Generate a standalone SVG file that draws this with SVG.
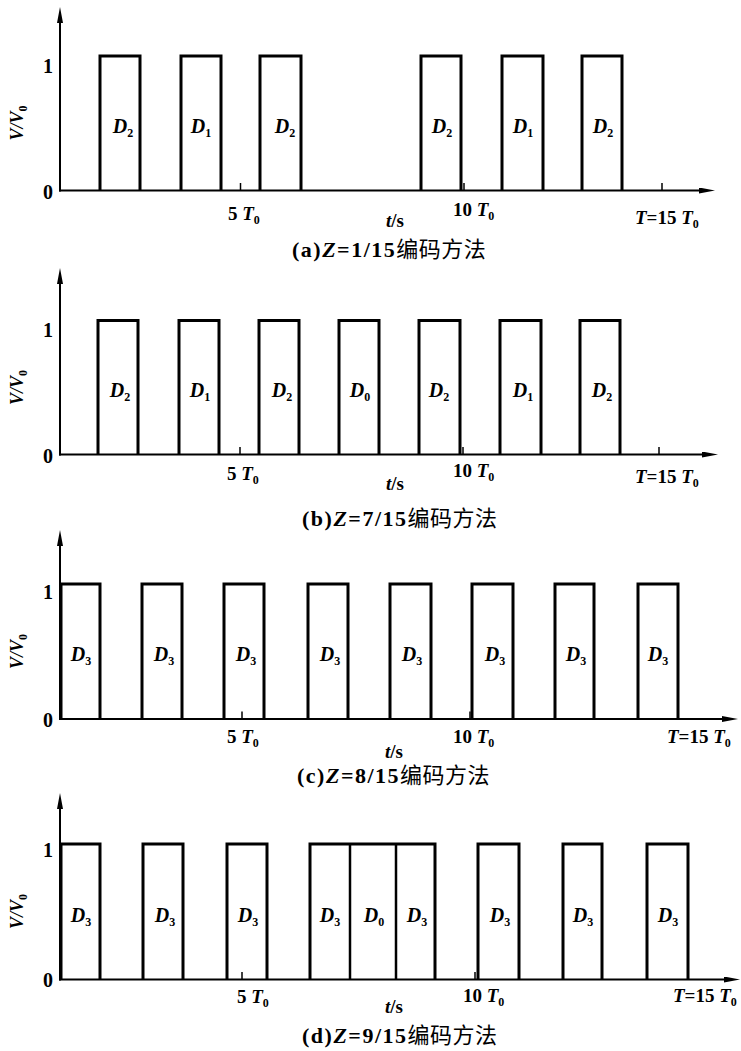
<svg xmlns="http://www.w3.org/2000/svg" width="741" height="1051" viewBox="0 0 741 1051">
<style>
.ax{stroke:#000;stroke-width:2;fill:none}
.tk{stroke:#000;stroke-width:1.5}
.p{stroke:#000;stroke-width:3;fill:none;stroke-linejoin:miter}
.dv{stroke:#000;stroke-width:2.5}
text{font-family:"Liberation Serif","Times New Roman",serif;font-weight:bold;fill:#000}
.dl{font-size:20px;font-style:italic;text-anchor:middle}
.sub{font-size:12px;font-style:normal}
.num{font-size:20px;text-anchor:middle}
.tl{font-size:19px}
.vl{font-size:18px;font-style:italic;text-anchor:middle}
.it{font-style:italic}
.cap{font-size:22px;letter-spacing:1.5px}
.cjk{font-family:"Noto Sans CJK SC",sans-serif;font-weight:400;letter-spacing:0.5px}
</style>
<defs>
<marker id="arr" viewBox="0 0 16 6" refX="8" refY="3" markerWidth="16" markerHeight="6" orient="auto" markerUnits="userSpaceOnUse"><path d="M0,0 L16,3 L0,6 Z" fill="#000"/></marker>
</defs>

<!-- Panel (a) -->
<g id="panel-a">
<g id="axes-a">
<line class="ax" x1="60" y1="191.5" x2="60" y2="15" marker-end="url(#arr)"/>
<line class="ax" x1="59" y1="190.5" x2="707" y2="190.5" marker-end="url(#arr)"/>
<line class="tk" x1="240.5" y1="190" x2="240.5" y2="183"/>
<line class="tk" x1="464" y1="190" x2="464" y2="183"/>
<line class="tk" x1="662" y1="190" x2="662" y2="183"/>
<text class="num" x="48" y="73">1</text>
<text class="num" x="48" y="199">0</text>
<text class="vl" transform="translate(23,123) rotate(-90)">V/V<tspan class="sub" dy="4">0</tspan></text>
<text class="tl" x="228" y="220">5 <tspan class="it">T</tspan><tspan class="sub" dy="4">0</tspan></text>
<text class="tl" x="453" y="216">10 <tspan class="it">T</tspan><tspan class="sub" dy="4">0</tspan></text>
<text class="tl" x="635" y="224"><tspan class="it">T</tspan>=15 <tspan class="it">T</tspan><tspan class="sub" dy="4">0</tspan></text>
<text class="tl" x="386" y="227"><tspan class="it">t</tspan>/s</text>
</g>
<g id="a-p1"><path class="p" d="M100,190.5V56H140V190.5"/><text class="dl" x="123" y="133">D<tspan class="sub" dy="4">2</tspan></text></g>
<g id="a-p2"><path class="p" d="M181,190.5V56H221V190.5"/><text class="dl" x="201" y="133">D<tspan class="sub" dy="4">1</tspan></text></g>
<g id="a-p3"><path class="p" d="M260,190.5V56H301V190.5"/><text class="dl" x="285" y="133">D<tspan class="sub" dy="4">2</tspan></text></g>
<g id="a-p4"><path class="p" d="M421,190.5V56H461V190.5"/><text class="dl" x="442" y="133">D<tspan class="sub" dy="4">2</tspan></text></g>
<g id="a-p5"><path class="p" d="M502,190.5V56H543V190.5"/><text class="dl" x="523" y="133">D<tspan class="sub" dy="4">1</tspan></text></g>
<g id="a-p6"><path class="p" d="M582,190.5V56H622V190.5"/><text class="dl" x="603" y="133">D<tspan class="sub" dy="4">2</tspan></text></g>
<text id="cap-a" class="cap" x="292" y="257">(a)<tspan class="it">Z</tspan>=1/15<tspan class="cjk">编码方法</tspan></text>
</g>

<!-- Panel (b) -->
<g id="panel-b">
<g id="axes-b">
<line class="ax" x1="60" y1="455.5" x2="60" y2="276" marker-end="url(#arr)"/>
<line class="ax" x1="59" y1="454.5" x2="710" y2="454.5" marker-end="url(#arr)"/>
<line class="tk" x1="240" y1="454" x2="240" y2="447"/>
<line class="tk" x1="463" y1="454" x2="463" y2="447"/>
<line class="tk" x1="659" y1="454" x2="659" y2="447"/>
<text class="num" x="48" y="337">1</text>
<text class="num" x="48" y="463">0</text>
<text class="vl" transform="translate(23,387.5) rotate(-90)">V/V<tspan class="sub" dy="4">0</tspan></text>
<text class="tl" x="227" y="480">5 <tspan class="it">T</tspan><tspan class="sub" dy="4">0</tspan></text>
<text class="tl" x="453" y="477">10 <tspan class="it">T</tspan><tspan class="sub" dy="4">0</tspan></text>
<text class="tl" x="635" y="483"><tspan class="it">T</tspan>=15 <tspan class="it">T</tspan><tspan class="sub" dy="4">0</tspan></text>
<text class="tl" x="386" y="490"><tspan class="it">t</tspan>/s</text>
</g>
<g id="b-p1"><path class="p" d="M98,454.5V320.5H138V454.5"/><text class="dl" x="120" y="397">D<tspan class="sub" dy="4">2</tspan></text></g>
<g id="b-p2"><path class="p" d="M179,454.5V320.5H219V454.5"/><text class="dl" x="200" y="397">D<tspan class="sub" dy="4">1</tspan></text></g>
<g id="b-p3"><path class="p" d="M259,454.5V320.5H299V454.5"/><text class="dl" x="282" y="397">D<tspan class="sub" dy="4">2</tspan></text></g>
<g id="b-p4"><path class="p" d="M339,454.5V320.5H379V454.5"/><text class="dl" x="360" y="397">D<tspan class="sub" dy="4">0</tspan></text></g>
<g id="b-p5"><path class="p" d="M419,454.5V320.5H460V454.5"/><text class="dl" x="439" y="397">D<tspan class="sub" dy="4">2</tspan></text></g>
<g id="b-p6"><path class="p" d="M500,454.5V320.5H541V454.5"/><text class="dl" x="523" y="397">D<tspan class="sub" dy="4">1</tspan></text></g>
<g id="b-p7"><path class="p" d="M580,454.5V320.5H620V454.5"/><text class="dl" x="602" y="397">D<tspan class="sub" dy="4">2</tspan></text></g>
<text id="cap-b" class="cap" x="302" y="526">(b)<tspan class="it">Z</tspan>=7/15<tspan class="cjk">编码方法</tspan></text>
</g>

<!-- Panel (c) -->
<g id="panel-c">
<g id="axes-c">
<line class="ax" x1="60" y1="720" x2="60" y2="538" marker-end="url(#arr)"/>
<line class="ax" x1="59" y1="719" x2="730" y2="719" marker-end="url(#arr)"/>
<line class="tk" x1="242" y1="718.5" x2="242" y2="711.5"/>
<line class="tk" x1="470" y1="718.5" x2="470" y2="711.5"/>
<text class="num" x="48" y="599">1</text>
<text class="num" x="48" y="727">0</text>
<text class="vl" transform="translate(23,651.5) rotate(-90)">V/V<tspan class="sub" dy="4">0</tspan></text>
<text class="tl" x="227" y="743">5 <tspan class="it">T</tspan><tspan class="sub" dy="4">0</tspan></text>
<text class="tl" x="453" y="743">10 <tspan class="it">T</tspan><tspan class="sub" dy="4">0</tspan></text>
<text class="tl" x="667" y="743"><tspan class="it">T</tspan>=15 <tspan class="it">T</tspan><tspan class="sub" dy="4">0</tspan></text>
<text class="tl" x="385" y="758"><tspan class="it">t</tspan>/s</text>
</g>
<g id="c-p1"><path class="p" d="M61,719V584H100V719"/><text class="dl" x="81" y="661">D<tspan class="sub" dy="4">3</tspan></text></g>
<g id="c-p2"><path class="p" d="M142,719V584H182V719"/><text class="dl" x="164" y="661">D<tspan class="sub" dy="4">3</tspan></text></g>
<g id="c-p3"><path class="p" d="M224,719V584H264V719"/><text class="dl" x="246" y="661">D<tspan class="sub" dy="4">3</tspan></text></g>
<g id="c-p4"><path class="p" d="M308,719V584H348V719"/><text class="dl" x="330" y="661">D<tspan class="sub" dy="4">3</tspan></text></g>
<g id="c-p5"><path class="p" d="M390,719V584H431V719"/><text class="dl" x="412" y="661">D<tspan class="sub" dy="4">3</tspan></text></g>
<g id="c-p6"><path class="p" d="M472,719V584H513V719"/><text class="dl" x="495" y="661">D<tspan class="sub" dy="4">3</tspan></text></g>
<g id="c-p7"><path class="p" d="M555,719V584H594V719"/><text class="dl" x="576" y="661">D<tspan class="sub" dy="4">3</tspan></text></g>
<g id="c-p8"><path class="p" d="M638,719V584H678V719"/><text class="dl" x="658" y="661">D<tspan class="sub" dy="4">3</tspan></text></g>
<text id="cap-c" class="cap" x="297" y="783">(c)<tspan class="it">Z</tspan>=8/15<tspan class="cjk">编码方法</tspan></text>
</g>

<!-- Panel (d) -->
<g id="panel-d">
<g id="axes-d">
<line class="ax" x1="60" y1="980.5" x2="60" y2="801" marker-end="url(#arr)"/>
<line class="ax" x1="59" y1="979.5" x2="732" y2="979.5" marker-end="url(#arr)"/>
<line class="tk" x1="242" y1="979" x2="242" y2="972"/>
<line class="tk" x1="475" y1="979" x2="475" y2="972"/>
<text class="num" x="48" y="857">1</text>
<text class="num" x="48" y="987">0</text>
<text class="vl" transform="translate(23,911.5) rotate(-90)">V/V<tspan class="sub" dy="4">0</tspan></text>
<text class="tl" x="237" y="1003">5 <tspan class="it">T</tspan><tspan class="sub" dy="4">0</tspan></text>
<text class="tl" x="463" y="1002">10 <tspan class="it">T</tspan><tspan class="sub" dy="4">0</tspan></text>
<text class="tl" x="673" y="1002"><tspan class="it">T</tspan>=15 <tspan class="it">T</tspan><tspan class="sub" dy="4">0</tspan></text>
<text class="tl" x="385" y="1013"><tspan class="it">t</tspan>/s</text>
</g>
<g id="d-p1"><path class="p" d="M61,979.5V844H100V979.5"/><text class="dl" x="81" y="922">D<tspan class="sub" dy="4">3</tspan></text></g>
<g id="d-p2"><path class="p" d="M143,979.5V844H183V979.5"/><text class="dl" x="165" y="922">D<tspan class="sub" dy="4">3</tspan></text></g>
<g id="d-p3"><path class="p" d="M227,979.5V844H267V979.5"/><text class="dl" x="248" y="922">D<tspan class="sub" dy="4">3</tspan></text></g>
<g id="d-p4">
<path class="p" d="M310,979.5V844H435V979.5"/>
<line class="dv" x1="350" y1="845" x2="350" y2="979.5"/>
<line class="dv" x1="396" y1="845" x2="396" y2="979.5"/>
<text class="dl" x="330" y="922">D<tspan class="sub" dy="4">3</tspan></text>
<text class="dl" x="374" y="922">D<tspan class="sub" dy="4">0</tspan></text>
<text class="dl" x="417" y="922">D<tspan class="sub" dy="4">3</tspan></text>
</g>
<g id="d-p5"><path class="p" d="M478,979.5V844H519V979.5"/><text class="dl" x="500" y="922">D<tspan class="sub" dy="4">3</tspan></text></g>
<g id="d-p6"><path class="p" d="M563,979.5V844H602V979.5"/><text class="dl" x="583" y="922">D<tspan class="sub" dy="4">3</tspan></text></g>
<g id="d-p7"><path class="p" d="M647,979.5V844H688V979.5"/><text class="dl" x="668" y="922">D<tspan class="sub" dy="4">3</tspan></text></g>
<text id="cap-d" class="cap" x="302" y="1043">(d)<tspan class="it">Z</tspan>=9/15<tspan class="cjk">编码方法</tspan></text>
</g>
</svg>
